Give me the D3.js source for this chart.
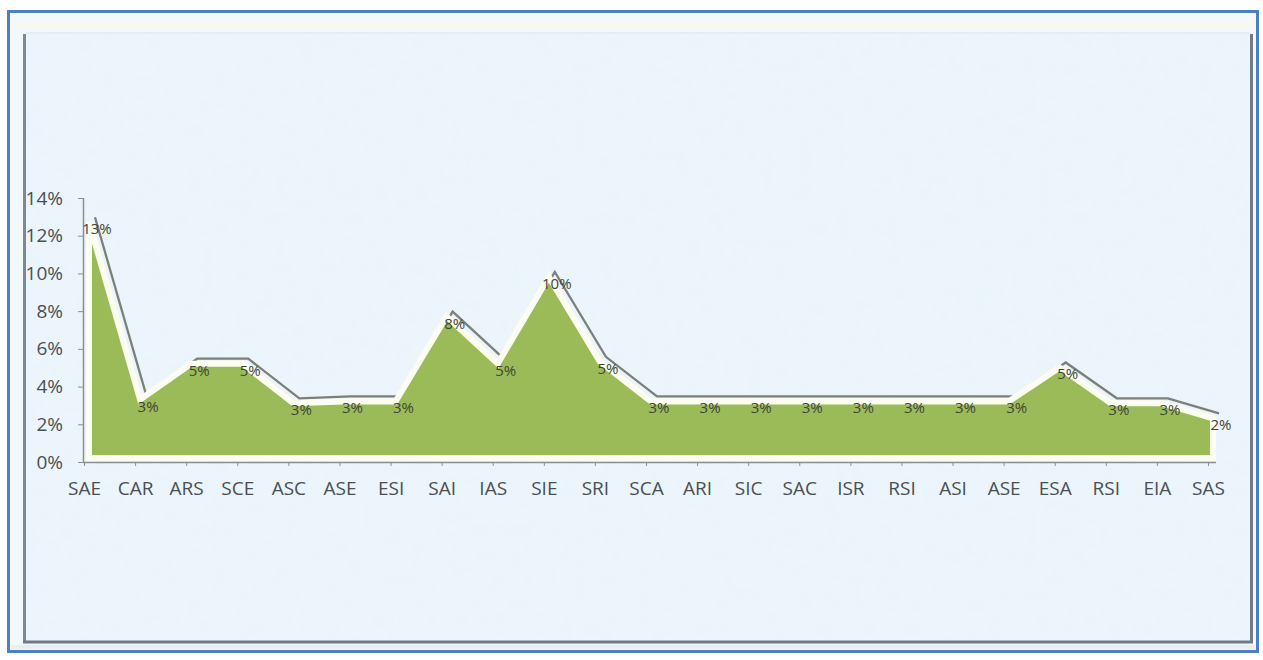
<!DOCTYPE html>
<html><head><meta charset="utf-8">
<script src="https://cdn.jsdelivr.net/npm/d3@7"></script>
<style>
html,body{margin:0;padding:0;background:#fff;}
svg{display:block;}
</style></head>
<body>
<svg id="chart" width="1263" height="660"></svg>
<script>
const categories = ["SAE","CAR","ARS","SCE","ASC","ASE","ESI","SAI","IAS","SIE","SRI","SCA","ARI","SIC","SAC","ISR","RSI","ASI","ASE","ESA","RSI","EIA","SAS"];
const values = [12.5,3.1,5.0,5.0,2.9,3.0,3.0,7.5,5.0,9.6,5.1,3.0,3.0,3.0,3.0,3.0,3.0,3.0,3.0,4.8,2.9,2.9,2.1];
const yTicks = [0,2,4,6,8,10,12,14];

const svg = d3.select("#chart");
const defs = svg.append("defs");
const FONT = "'Open Sans', 'Liberation Sans', sans-serif";

// mottled texture filter for background
const f = defs.append("filter").attr("id","tex").attr("x",0).attr("y",0).attr("width","100%").attr("height","100%");
f.append("feTurbulence").attr("type","fractalNoise").attr("baseFrequency","0.08").attr("numOctaves",3).attr("seed",11).attr("result","n");
f.append("feColorMatrix").attr("in","n").attr("type","matrix")
 .attr("values","0 0 0 0 0.82  0 0 0 0 0.90  0 0 0 0 0.97  -3.2 0 0 0 1.85").attr("result","c");
f.append("feComposite").attr("in","c").attr("in2","SourceGraphic").attr("operator","in");

// frame
svg.append("rect").attr("x",8.5).attr("y",11.5).attr("width",1249).attr("height",640)
  .attr("fill","#f3f8fb").attr("stroke","#4f7fbf").attr("stroke-width",3);
svg.append("line").attr("x1",12).attr("y1",25).attr("x2",1254).attr("y2",25).attr("stroke","#fbf8e8").attr("stroke-width",3);
// inner panel
svg.append("rect").attr("x",23).attr("y",32).attr("width",1229).attr("height",611).attr("fill","#ecf5fb");
svg.append("rect").attr("x",23).attr("y",32).attr("width",1229).attr("height",611).attr("fill","#ffffff").attr("filter","url(#tex)").attr("opacity",0.8);
// bevel edges
svg.append("line").attr("x1",24.5).attr("y1",34).attr("x2",24.5).attr("y2",643).attr("stroke","#7d8a95").attr("stroke-width",3);
svg.append("line").attr("x1",1251.5).attr("y1",34).attr("x2",1251.5).attr("y2",643).attr("stroke","#6f7c88").attr("stroke-width",3);
svg.append("line").attr("x1",23).attr("y1",642).attr("x2",1253).attr("y2",642).attr("stroke","#6f7c88").attr("stroke-width",3);
svg.append("line").attr("x1",26).attr("y1",33).attr("x2",1250).attr("y2",33).attr("stroke","#e4edf3").attr("stroke-width",2);
svg.append("line").attr("x1",11).attr("y1",647).attr("x2",1255).attr("y2",647).attr("stroke","#e8eef2").attr("stroke-width",4);

// scales
const x = d3.scalePoint().domain(d3.range(categories.length)).range([84,1208]);
const y = d3.scaleLinear().domain([0,14]).range([462,198]);

// axes
const gy = svg.append("g").attr("transform","translate(83,0)")
  .call(d3.axisLeft(y).tickValues(yTicks).tickSize(5).tickPadding(15).tickFormat(d=>d+"%"));
const gx = svg.append("g").attr("transform","translate(0,462)")
  .call(d3.axisBottom(x).tickSize(4).tickPadding(16).tickFormat(i=>categories[i]));
gx.select(".domain").attr("d","M83,0.5H1216");
[gy,gx].forEach(g=>{
  g.selectAll(".domain").attr("stroke","#8a8f94").attr("stroke-width",1.5);
  g.selectAll(".tick line").attr("stroke","#8a8f94");
  g.selectAll("text").attr("fill","#4a4f55").attr("font-family",FONT).attr("font-size",19);
});
gy.select(".domain").attr("d","M0.5,198V462");

// area group with slight offset like the Excel bevel rendering
const g = svg.append("g").attr("transform","translate(5,-4)");
const line = d3.line().x((d,i)=>x(i)).y(d=>y(d));
const area = d3.area().x((d,i)=>x(i)).y0(y(0)).y1(d=>y(d));

// shadow line
g.append("path").datum(values).attr("d",line)
  .attr("transform","translate(6,-5)")
  .attr("fill","none").attr("stroke","#5f6458").attr("stroke-width",2.3).attr("opacity",0.8);
// area with white outline
g.append("path").datum(values).attr("d",area)
  .attr("fill","#9bbb59").attr("stroke","#fbfdf0").attr("stroke-width",6).attr("stroke-linejoin","miter");

// data labels
g.selectAll("text.lbl").data(values).join("text").attr("class","lbl")
  .attr("x",(d,i)=>x(i)+8).attr("y",d=>y(d)+12)
  .attr("text-anchor","middle")
  .attr("font-family",FONT).attr("font-size",15)
  .attr("fill","#3f4536")
  .text(d=>Math.round(d)+"%");
</script>
</body></html>
